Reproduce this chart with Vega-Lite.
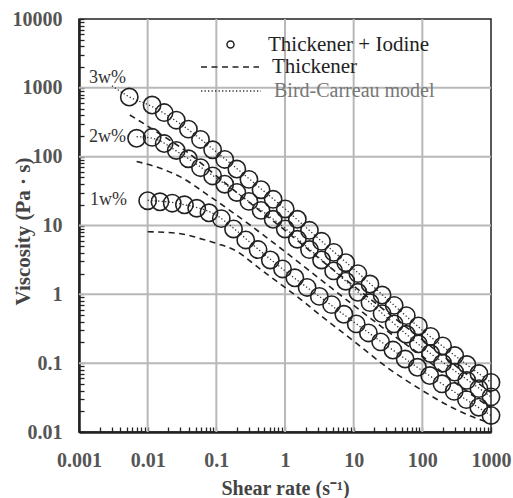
{
  "$schema": "https://vega.github.io/schema/vega-lite/v6.json",
  "width": 412,
  "height": 413,
  "autosize": "none",
  "padding": {"left": 79, "top": 19, "right": 22, "bottom": 66},
  "background": "white",
  "config": {
    "view": {"stroke": "#222", "strokeWidth": 1.5},
    "axis": {
      "labelFont": "Liberation Serif", "labelFontWeight": "bold", "labelFontSize": 20, "labelColor": "#555",
      "titleFont": "Liberation Serif", "titleFontWeight": "bold", "titleColor": "#444",
      "domainColor": "#222", "domainWidth": 2.5,
      "tickColor": "#222", "tickWidth": 1.3, "tickSize": -5,
      "grid": false,
      "labelOverlap": false, "labelFlush": false
    }
  },
  "datasets": {
    "gridv": [
      {"x": 0.01, "v": 0.01, "v2": 10000},
      {"x": 0.1, "v": 0.01, "v2": 10000},
      {"x": 1, "v": 0.01, "v2": 10000},
      {"x": 10, "v": 0.01, "v2": 10000},
      {"x": 100, "v": 0.01, "v2": 10000}
    ],
    "gridh": [
      {"x": 0.001, "x2": 1000, "v": 0.1},
      {"x": 0.001, "x2": 1000, "v": 1},
      {"x": 0.001, "x2": 1000, "v": 10},
      {"x": 0.001, "x2": 1000, "v": 100},
      {"x": 0.001, "x2": 1000, "v": 1000}
    ],
    "pts": [
      {"x": 0.0054, "v": 735, "c": "3w", "s": "Thickener + Iodine"},
      {"x": 0.0116, "v": 562, "c": "3w", "s": "Thickener + Iodine"},
      {"x": 0.0174, "v": 437, "c": "3w", "s": "Thickener + Iodine"},
      {"x": 0.0261, "v": 339, "c": "3w", "s": "Thickener + Iodine"},
      {"x": 0.0392, "v": 251, "c": "3w", "s": "Thickener + Iodine"},
      {"x": 0.0588, "v": 178, "c": "3w", "s": "Thickener + Iodine"},
      {"x": 0.0883, "v": 126, "c": "3w", "s": "Thickener + Iodine"},
      {"x": 0.1325, "v": 91.2, "c": "3w", "s": "Thickener + Iodine"},
      {"x": 0.1988, "v": 66.1, "c": "3w", "s": "Thickener + Iodine"},
      {"x": 0.2983, "v": 46.8, "c": "3w", "s": "Thickener + Iodine"},
      {"x": 0.4477, "v": 33.1, "c": "3w", "s": "Thickener + Iodine"},
      {"x": 0.6718, "v": 24.0, "c": "3w", "s": "Thickener + Iodine"},
      {"x": 1.008, "v": 17.4, "c": "3w", "s": "Thickener + Iodine"},
      {"x": 1.513, "v": 12.3, "c": "3w", "s": "Thickener + Iodine"},
      {"x": 2.27, "v": 8.51, "c": "3w", "s": "Thickener + Iodine"},
      {"x": 3.406, "v": 5.89, "c": "3w", "s": "Thickener + Iodine"},
      {"x": 5.112, "v": 4.07, "c": "3w", "s": "Thickener + Iodine"},
      {"x": 7.671, "v": 2.88, "c": "3w", "s": "Thickener + Iodine"},
      {"x": 11.51, "v": 2.0, "c": "3w", "s": "Thickener + Iodine"},
      {"x": 17.28, "v": 1.41, "c": "3w", "s": "Thickener + Iodine"},
      {"x": 25.93, "v": 0.977, "c": "3w", "s": "Thickener + Iodine"},
      {"x": 38.9, "v": 0.692, "c": "3w", "s": "Thickener + Iodine"},
      {"x": 58.38, "v": 0.49, "c": "3w", "s": "Thickener + Iodine"},
      {"x": 87.6, "v": 0.347, "c": "3w", "s": "Thickener + Iodine"},
      {"x": 131.5, "v": 0.245, "c": "3w", "s": "Thickener + Iodine"},
      {"x": 197.2, "v": 0.178, "c": "3w", "s": "Thickener + Iodine"},
      {"x": 296, "v": 0.129, "c": "3w", "s": "Thickener + Iodine"},
      {"x": 444.2, "v": 0.0955, "c": "3w", "s": "Thickener + Iodine"},
      {"x": 666.6, "v": 0.0708, "c": "3w", "s": "Thickener + Iodine"},
      {"x": 1000, "v": 0.0525, "c": "3w", "s": "Thickener + Iodine"},
      {"x": 0.0069, "v": 185, "c": "2w", "s": "Thickener + Iodine"},
      {"x": 0.0116, "v": 191, "c": "2w", "s": "Thickener + Iodine"},
      {"x": 0.0174, "v": 155, "c": "2w", "s": "Thickener + Iodine"},
      {"x": 0.0261, "v": 123, "c": "2w", "s": "Thickener + Iodine"},
      {"x": 0.0392, "v": 93.3, "c": "2w", "s": "Thickener + Iodine"},
      {"x": 0.0588, "v": 69.2, "c": "2w", "s": "Thickener + Iodine"},
      {"x": 0.0883, "v": 52.5, "c": "2w", "s": "Thickener + Iodine"},
      {"x": 0.1325, "v": 39.8, "c": "2w", "s": "Thickener + Iodine"},
      {"x": 0.1988, "v": 30.2, "c": "2w", "s": "Thickener + Iodine"},
      {"x": 0.2983, "v": 22.4, "c": "2w", "s": "Thickener + Iodine"},
      {"x": 0.4477, "v": 16.6, "c": "2w", "s": "Thickener + Iodine"},
      {"x": 0.6718, "v": 12.3, "c": "2w", "s": "Thickener + Iodine"},
      {"x": 1.008, "v": 8.91, "c": "2w", "s": "Thickener + Iodine"},
      {"x": 1.513, "v": 6.31, "c": "2w", "s": "Thickener + Iodine"},
      {"x": 2.27, "v": 4.47, "c": "2w", "s": "Thickener + Iodine"},
      {"x": 3.406, "v": 3.16, "c": "2w", "s": "Thickener + Iodine"},
      {"x": 5.112, "v": 2.19, "c": "2w", "s": "Thickener + Iodine"},
      {"x": 7.671, "v": 1.55, "c": "2w", "s": "Thickener + Iodine"},
      {"x": 11.51, "v": 1.07, "c": "2w", "s": "Thickener + Iodine"},
      {"x": 17.28, "v": 0.759, "c": "2w", "s": "Thickener + Iodine"},
      {"x": 25.93, "v": 0.525, "c": "2w", "s": "Thickener + Iodine"},
      {"x": 38.9, "v": 0.372, "c": "2w", "s": "Thickener + Iodine"},
      {"x": 58.38, "v": 0.263, "c": "2w", "s": "Thickener + Iodine"},
      {"x": 87.6, "v": 0.191, "c": "2w", "s": "Thickener + Iodine"},
      {"x": 131.5, "v": 0.138, "c": "2w", "s": "Thickener + Iodine"},
      {"x": 197.2, "v": 0.1, "c": "2w", "s": "Thickener + Iodine"},
      {"x": 296, "v": 0.0741, "c": "2w", "s": "Thickener + Iodine"},
      {"x": 444.2, "v": 0.0562, "c": "2w", "s": "Thickener + Iodine"},
      {"x": 666.6, "v": 0.0427, "c": "2w", "s": "Thickener + Iodine"},
      {"x": 1000, "v": 0.0324, "c": "2w", "s": "Thickener + Iodine"},
      {"x": 0.01, "v": 22.9, "c": "1w", "s": "Thickener + Iodine"},
      {"x": 0.0151, "v": 22.1, "c": "1w", "s": "Thickener + Iodine"},
      {"x": 0.0228, "v": 21.1, "c": "1w", "s": "Thickener + Iodine"},
      {"x": 0.0343, "v": 20.0, "c": "1w", "s": "Thickener + Iodine"},
      {"x": 0.0518, "v": 17.8, "c": "1w", "s": "Thickener + Iodine"},
      {"x": 0.0781, "v": 15.3, "c": "1w", "s": "Thickener + Iodine"},
      {"x": 0.118, "v": 12.6, "c": "1w", "s": "Thickener + Iodine"},
      {"x": 0.178, "v": 8.91, "c": "1w", "s": "Thickener + Iodine"},
      {"x": 0.268, "v": 6.17, "c": "1w", "s": "Thickener + Iodine"},
      {"x": 0.405, "v": 4.47, "c": "1w", "s": "Thickener + Iodine"},
      {"x": 0.611, "v": 3.16, "c": "1w", "s": "Thickener + Iodine"},
      {"x": 0.921, "v": 2.34, "c": "1w", "s": "Thickener + Iodine"},
      {"x": 1.39, "v": 1.74, "c": "1w", "s": "Thickener + Iodine"},
      {"x": 2.1, "v": 1.26, "c": "1w", "s": "Thickener + Iodine"},
      {"x": 3.16, "v": 0.933, "c": "1w", "s": "Thickener + Iodine"},
      {"x": 4.77, "v": 0.708, "c": "1w", "s": "Thickener + Iodine"},
      {"x": 7.2, "v": 0.513, "c": "1w", "s": "Thickener + Iodine"},
      {"x": 10.9, "v": 0.372, "c": "1w", "s": "Thickener + Iodine"},
      {"x": 16.4, "v": 0.275, "c": "1w", "s": "Thickener + Iodine"},
      {"x": 24.7, "v": 0.204, "c": "1w", "s": "Thickener + Iodine"},
      {"x": 37.3, "v": 0.155, "c": "1w", "s": "Thickener + Iodine"},
      {"x": 56.2, "v": 0.115, "c": "1w", "s": "Thickener + Iodine"},
      {"x": 84.8, "v": 0.0871, "c": "1w", "s": "Thickener + Iodine"},
      {"x": 128, "v": 0.0661, "c": "1w", "s": "Thickener + Iodine"},
      {"x": 193, "v": 0.0501, "c": "1w", "s": "Thickener + Iodine"},
      {"x": 291, "v": 0.0389, "c": "1w", "s": "Thickener + Iodine"},
      {"x": 439, "v": 0.0295, "c": "1w", "s": "Thickener + Iodine"},
      {"x": 663, "v": 0.0229, "c": "1w", "s": "Thickener + Iodine"},
      {"x": 1000, "v": 0.0174, "c": "1w", "s": "Thickener + Iodine"}
    ],
    "thick": [
      {"x": 0.0055, "v": 403, "c": "3w", "s": "Thickener"},
      {"x": 0.0126, "v": 240, "c": "3w", "s": "Thickener"},
      {"x": 0.037, "v": 118, "c": "3w", "s": "Thickener"},
      {"x": 0.1, "v": 52.5, "c": "3w", "s": "Thickener"},
      {"x": 0.316, "v": 20.9, "c": "3w", "s": "Thickener"},
      {"x": 1, "v": 8.51, "c": "3w", "s": "Thickener"},
      {"x": 3.16, "v": 3.31, "c": "3w", "s": "Thickener"},
      {"x": 10, "v": 1.32, "c": "3w", "s": "Thickener"},
      {"x": 31.6, "v": 0.537, "c": "3w", "s": "Thickener"},
      {"x": 100, "v": 0.219, "c": "3w", "s": "Thickener"},
      {"x": 316, "v": 0.0891, "c": "3w", "s": "Thickener"},
      {"x": 1000, "v": 0.0372, "c": "3w", "s": "Thickener"},
      {"x": 0.0069, "v": 85.1, "c": "2w", "s": "Thickener"},
      {"x": 0.0126, "v": 72.4, "c": "2w", "s": "Thickener"},
      {"x": 0.0295, "v": 51.3, "c": "2w", "s": "Thickener"},
      {"x": 0.0813, "v": 26.3, "c": "2w", "s": "Thickener"},
      {"x": 0.316, "v": 10, "c": "2w", "s": "Thickener"},
      {"x": 1, "v": 4.17, "c": "2w", "s": "Thickener"},
      {"x": 3.16, "v": 1.7, "c": "2w", "s": "Thickener"},
      {"x": 10, "v": 0.692, "c": "2w", "s": "Thickener"},
      {"x": 31.6, "v": 0.288, "c": "2w", "s": "Thickener"},
      {"x": 100, "v": 0.126, "c": "2w", "s": "Thickener"},
      {"x": 316, "v": 0.05, "c": "2w", "s": "Thickener"},
      {"x": 1000, "v": 0.0224, "c": "2w", "s": "Thickener"},
      {"x": 0.01, "v": 8.1, "c": "1w", "s": "Thickener"},
      {"x": 0.02, "v": 7.9, "c": "1w", "s": "Thickener"},
      {"x": 0.04, "v": 7.2, "c": "1w", "s": "Thickener"},
      {"x": 0.063, "v": 6.3, "c": "1w", "s": "Thickener"},
      {"x": 0.1, "v": 5.5, "c": "1w", "s": "Thickener"},
      {"x": 0.2, "v": 4.2, "c": "1w", "s": "Thickener"},
      {"x": 0.316, "v": 3.0, "c": "1w", "s": "Thickener"},
      {"x": 0.5, "v": 2.1, "c": "1w", "s": "Thickener"},
      {"x": 1, "v": 1.26, "c": "1w", "s": "Thickener"},
      {"x": 2, "v": 0.74, "c": "1w", "s": "Thickener"},
      {"x": 3.16, "v": 0.51, "c": "1w", "s": "Thickener"},
      {"x": 10, "v": 0.21, "c": "1w", "s": "Thickener"},
      {"x": 31.6, "v": 0.085, "c": "1w", "s": "Thickener"},
      {"x": 100, "v": 0.04, "c": "1w", "s": "Thickener"},
      {"x": 316, "v": 0.021, "c": "1w", "s": "Thickener"},
      {"x": 1000, "v": 0.0132, "c": "1w", "s": "Thickener"}
    ],
    "model": [
      {"x": 0.00302, "v": 1072, "c": "3w", "s": "Bird-Carreau model"},
      {"x": 0.00537, "v": 741, "c": "3w", "s": "Bird-Carreau model"},
      {"x": 0.0115, "v": 537, "c": "3w", "s": "Bird-Carreau model"},
      {"x": 0.0316, "v": 288, "c": "3w", "s": "Bird-Carreau model"},
      {"x": 0.1, "v": 117.5, "c": "3w", "s": "Bird-Carreau model"},
      {"x": 0.316, "v": 45.7, "c": "3w", "s": "Bird-Carreau model"},
      {"x": 1, "v": 17.4, "c": "3w", "s": "Bird-Carreau model"},
      {"x": 3.16, "v": 6.31, "c": "3w", "s": "Bird-Carreau model"},
      {"x": 10, "v": 2.34, "c": "3w", "s": "Bird-Carreau model"},
      {"x": 31.6, "v": 0.832, "c": "3w", "s": "Bird-Carreau model"},
      {"x": 100, "v": 0.302, "c": "3w", "s": "Bird-Carreau model"},
      {"x": 316, "v": 0.123, "c": "3w", "s": "Bird-Carreau model"},
      {"x": 1000, "v": 0.0525, "c": "3w", "s": "Bird-Carreau model"},
      {"x": 0.0069, "v": 195, "c": "2w", "s": "Bird-Carreau model"},
      {"x": 0.0115, "v": 186, "c": "2w", "s": "Bird-Carreau model"},
      {"x": 0.0316, "v": 107, "c": "2w", "s": "Bird-Carreau model"},
      {"x": 0.1, "v": 49, "c": "2w", "s": "Bird-Carreau model"},
      {"x": 0.316, "v": 21.4, "c": "2w", "s": "Bird-Carreau model"},
      {"x": 1, "v": 9.12, "c": "2w", "s": "Bird-Carreau model"},
      {"x": 3.16, "v": 3.39, "c": "2w", "s": "Bird-Carreau model"},
      {"x": 10, "v": 1.23, "c": "2w", "s": "Bird-Carreau model"},
      {"x": 31.6, "v": 0.447, "c": "2w", "s": "Bird-Carreau model"},
      {"x": 100, "v": 0.17, "c": "2w", "s": "Bird-Carreau model"},
      {"x": 316, "v": 0.0741, "c": "2w", "s": "Bird-Carreau model"},
      {"x": 1000, "v": 0.0324, "c": "2w", "s": "Bird-Carreau model"},
      {"x": 0.01, "v": 23.2, "c": "1w", "s": "Bird-Carreau model"},
      {"x": 0.0316, "v": 20.4, "c": "1w", "s": "Bird-Carreau model"},
      {"x": 0.1, "v": 14.1, "c": "1w", "s": "Bird-Carreau model"},
      {"x": 0.2, "v": 8.3, "c": "1w", "s": "Bird-Carreau model"},
      {"x": 0.316, "v": 5.6, "c": "1w", "s": "Bird-Carreau model"},
      {"x": 1, "v": 2.19, "c": "1w", "s": "Bird-Carreau model"},
      {"x": 3.16, "v": 0.933, "c": "1w", "s": "Bird-Carreau model"},
      {"x": 10, "v": 0.398, "c": "1w", "s": "Bird-Carreau model"},
      {"x": 31.6, "v": 0.174, "c": "1w", "s": "Bird-Carreau model"},
      {"x": 100, "v": 0.0776, "c": "1w", "s": "Bird-Carreau model"},
      {"x": 316, "v": 0.0363, "c": "1w", "s": "Bird-Carreau model"},
      {"x": 1000, "v": 0.0174, "c": "1w", "s": "Bird-Carreau model"}
    ],
    "lab": [
      {"x": 0.0026, "v": 1390, "t": "3w%"},
      {"x": 0.0026, "v": 193, "t": "2w%"},
      {"x": 0.0027, "v": 23.4, "t": "1w%"}
    ]
  },
  "encoding": {
    "x": {
      "field": "x", "type": "quantitative",
      "scale": {"type": "log", "domain": [0.001, 1000], "nice": false},
      "axis": {
        "values": [0.001,0.002,0.003,0.004,0.005,0.006,0.007,0.008,0.009,0.01,0.02,0.03,0.04,0.05,0.06,0.07,0.08,0.09,0.1,0.2,0.3,0.4,0.5,0.6,0.7,0.8,0.9,1,2,3,4,5,6,7,8,9,10,20,30,40,50,60,70,80,90,100,200,300,400,500,600,700,800,900,1000],
        "format": "~g",
        "labelExpr": "abs(log(datum.value)/LN10 - round(log(datum.value)/LN10)) < 0.001 ? datum.label : ''",
        "labelPadding": 23,
        "title": "Shear rate (s⁻¹)",
        "titleFontSize": 20,
        "titleX": 206, "titleY": 62, "titleBaseline": "alphabetic"
      }
    },
    "y": {
      "field": "v", "type": "quantitative",
      "scale": {"type": "log", "domain": [0.01, 10000], "nice": false},
      "axis": {
        "values": [0.01,0.02,0.03,0.04,0.05,0.06,0.07,0.08,0.09,0.1,0.2,0.3,0.4,0.5,0.6,0.7,0.8,0.9,1,2,3,4,5,6,7,8,9,10,20,30,40,50,60,70,80,90,100,200,300,400,500,600,700,800,900,1000,2000,3000,4000,5000,6000,7000,8000,9000,10000],
        "format": "~g",
        "labelExpr": "abs(log(datum.value)/LN10 - round(log(datum.value)/LN10)) < 0.001 ? datum.label : ''",
        "labelPadding": 22,
        "title": "Viscosity (Pa · s)",
        "titleFontSize": 21,
        "titleX": -50, "titleY": 212, "titleAngle": -90, "titleBaseline": "alphabetic"
      }
    }
  },
  "layer": [
    {
      "data": {"name": "gridv"},
      "mark": {"type": "rule", "stroke": "#b8b8b8", "strokeWidth": 2, "opacity": 1},
      "encoding": {"y2": {"field": "v2"}}
    },
    {
      "data": {"name": "gridh"},
      "mark": {"type": "rule", "stroke": "#b8b8b8", "strokeWidth": 2, "opacity": 1},
      "encoding": {"x2": {"field": "x2"}}
    },
    {
      "data": {"name": "thick"},
      "mark": {"type": "line", "interpolate": "monotone", "color": "#222", "strokeWidth": 1.6},
      "encoding": {
        "detail": {"field": "c"},
        "strokeDash": {
          "field": "s", "type": "nominal",
          "scale": {"range": [[6, 4.5]]},
          "legend": {"title": null, "orient": "none", "legendX": 121, "legendY": 18, "padding": 0,
            "symbolSize": 3364, "symbolStrokeWidth": 1.6, "symbolStrokeColor": "#222",
            "labelFont": "Liberation Serif", "labelFontSize": 21, "labelColor": "#222", "labelOffset": 12, "labelLimit": 400}
        }
      }
    },
    {
      "data": {"name": "model"},
      "mark": {"type": "line", "interpolate": "monotone", "color": "#333", "strokeWidth": 1.3},
      "encoding": {
        "detail": {"field": "c"},
        "strokeDash": {
          "field": "s", "type": "nominal",
          "scale": {"range": [[1.3, 2.2]]},
          "legend": {"title": null, "orient": "none", "legendX": 121, "legendY": 41, "padding": 0,
            "symbolSize": 3600, "symbolStrokeWidth": 1.3, "symbolStrokeColor": "#333",
            "labelFont": "Liberation Serif", "labelFontSize": 20, "labelColor": "#777", "labelOffset": 12, "labelLimit": 400}
        }
      }
    },
    {
      "data": {"name": "pts"},
      "mark": {"type": "point", "filled": false, "size": 300, "strokeWidth": 1.6, "color": "#222", "opacity": 1},
      "encoding": {
        "shape": {
          "field": "s", "type": "nominal",
          "scale": {"range": ["circle"]},
          "legend": {"title": null, "orient": "none", "legendX": 141, "legendY": 15, "padding": 0,
            "symbolSize": 50, "symbolStrokeWidth": 1.5, "symbolStrokeColor": "#222", "symbolFillColor": "transparent",
            "labelFont": "Liberation Serif", "labelFontSize": 21, "labelColor": "#222", "labelOffset": 27, "labelLimit": 400}
        }
      }
    },
    {
      "data": {"name": "lab"},
      "mark": {"type": "text", "font": "Liberation Serif", "fontSize": 18, "color": "#333", "align": "center", "baseline": "middle"},
      "encoding": {"text": {"field": "t"}}
    }
  ],
  "resolve": {"scale": {"strokeDash": "independent"}}
}
